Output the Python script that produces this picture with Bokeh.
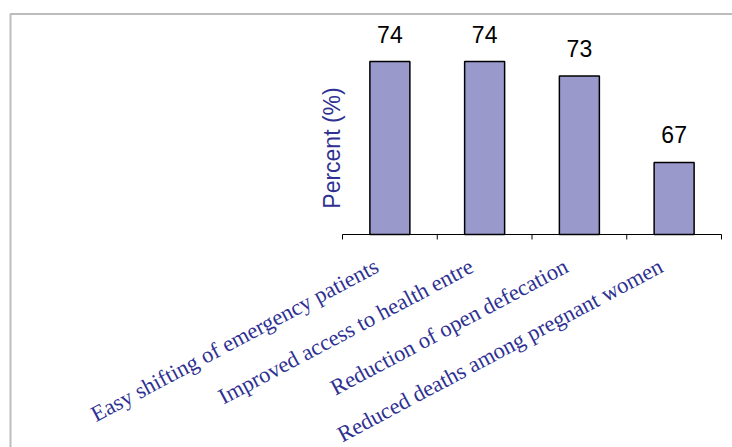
import math
from bokeh.plotting import figure
from bokeh.models import Range1d, BoxAnnotation
from bokeh.core.properties import value
from bokeh.embed import file_html
from bokeh.resources import INLINE

# ---- data ----
categories = [
    "Easy shifting of emergency patients",
    "Improved access to health entre",
    "Reduction of open defecation",
    "Reduced deaths among pregnant women",
]
percent = [74, 74, 73, 67]
value_labels = ["74", "74", "73", "67"]
y_title = "Percent (%)"
y_base, y_top = 62, 74

# ---- layout (pixels) ----
W, H = 732, 447
PLOT_L, PLOT_R = 342, 721      # axis extent on screen
AXIS_Y, TOP_BAR_Y = 234, 61    # screen y of base value and of y_top
NAVY = "#2E3192"
BAR = "#9999CC"

n = len(categories)
px_x = (PLOT_R - PLOT_L) / n
px_y = (AXIS_Y - TOP_BAR_Y) / (y_top - y_base)
x_start = -PLOT_L / px_x
x_end = n + (W - PLOT_R) / px_x
y_start = y_base - (H - AXIS_Y) / px_y
y_end = y_base + AXIS_Y / px_y

centers = [i + 0.5 for i in range(n)]
bounds = list(range(n + 1))

p = figure(width=W, height=H, output_backend="svg", toolbar_location=None,
           x_range=Range1d(x_start, x_end), y_range=Range1d(y_start, y_end),
           x_axis_location=None, y_axis_location=None,
           min_border=0, min_border_left=0, min_border_right=0,
           min_border_top=0, min_border_bottom=0)
p.outline_line_color = None
p.xgrid.visible = False
p.ygrid.visible = False
p.background_fill_color = "white"
p.border_fill_color = "white"

# bars
p.vbar(x=centers, top=percent, bottom=y_base, width=40 / px_x,
       fill_color=BAR, line_color="black", line_width=1.5)

# category axis line and boundary ticks
p.segment(x0=[0], y0=[y_base], x1=[n], y1=[y_base], line_color="black", line_width=1)
p.segment(x0=bounds, y0=[y_base] * len(bounds), x1=bounds,
          y1=[y_base - 5 / px_y] * len(bounds), line_color="black", line_width=1)

# value labels
p.text(x=centers, y=percent, text=value_labels, text_align="center",
       text_baseline="middle", y_offset=-27.5,
       text_font=value("Liberation Sans"), text_font_size="23px", text_color="black")

# category labels (rotated)
p.text(x=[c - 13 / px_x for c in centers], y=[y_base] * n, text=categories,
       angle=28, angle_units="deg", text_align="right", text_baseline="middle",
       y_offset=30, text_font=value("Liberation Serif"), text_font_size="22.5px",
       text_color=NAVY)

# y title
p.text(x=[0], y=[(y_base + y_top) / 2], text=[y_title], angle=90, angle_units="deg",
       text_align="center", text_baseline="middle", x_offset=-10.5,
       text_font=value("Liberation Sans"), text_font_size="23px", text_color=NAVY)

# outer chart border (left and top edges visible)
p.add_layout(BoxAnnotation(left=x_start + 10 / px_x, right=x_end + 1,
                           top=y_end - 13.5 / px_y, bottom=y_start - 1,
                           fill_alpha=0, line_color="#222222", line_width=2))

open("out.html", "w").write(file_html(p, INLINE))
